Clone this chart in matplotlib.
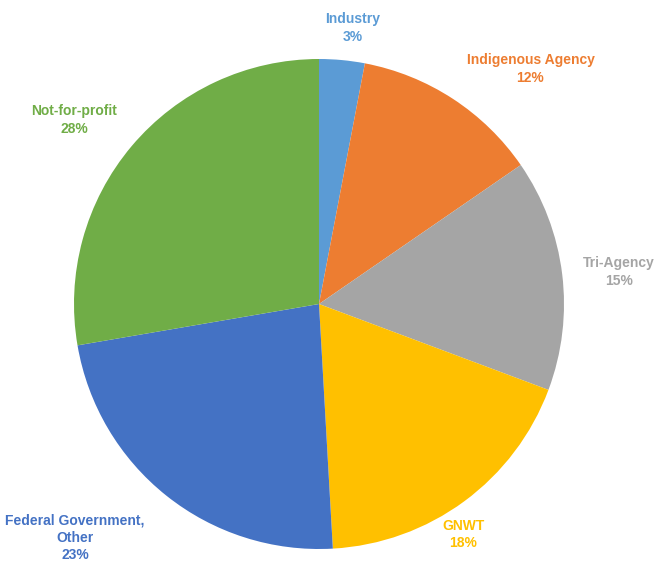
import numpy as np
import matplotlib
matplotlib.use('Agg')
import matplotlib.pyplot as plt

# funding sources (shares, labels as printed)
sources = ['Industry', 'Indigenous Agency', 'Tri-Agency', 'GNWT',
           'Federal Government,\nOther', 'Not-for-profit']
shares = [3.0, 12.4, 15.3, 18.4, 23.2, 27.7]
pct_labels = ['3%', '12%', '15%', '18%', '23%', '28%']
colors = ['#5B9BD5', '#ED7D31', '#A5A5A5', '#FFC000', '#4472C4', '#70AD47']

# label placement (bearing clockwise from top in degrees, radius in pie units)
label_bearing = [7.0, 42.0, 83.9, 147.9, 226.2, 306.9]
label_radius = [1.135, 1.29, 1.23, 1.11, 1.38, 1.25]

W, H = 657, 563
cx, cy, r = 319, 304, 245

fig = plt.figure(figsize=(W / 100, H / 100), dpi=100)
ax = fig.add_axes([0, 0, 1, 1])

ax.pie(shares, colors=colors, startangle=90, counterclock=False,
       radius=1, wedgeprops={'linewidth': 0})

for name, pct, col, b, rr in zip(sources, pct_labels, colors, label_bearing, label_radius):
    a = np.deg2rad(b)
    ax.text(rr * np.sin(a), rr * np.cos(a), name + '\n' + pct, color=col,
            ha='center', va='center', fontsize=10, fontweight='bold',
            family=['Liberation Sans', 'DejaVu Sans'], linespacing=1.3)

ax.set_xlim(-cx / r, (W - cx) / r)
ax.set_ylim((cy - H) / r, cy / r)
ax.set_aspect('equal', adjustable='datalim')
ax.axis('off')

fig.savefig('out.png', dpi=100, facecolor='white')
